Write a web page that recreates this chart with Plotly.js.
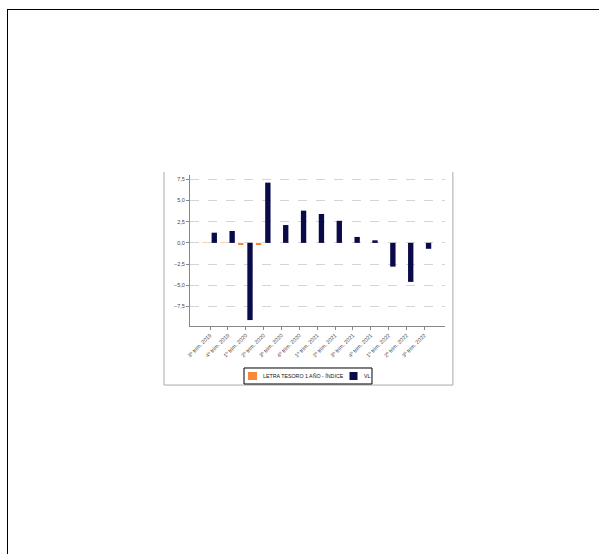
<!DOCTYPE html>
<html>
<head>
<meta charset="utf-8">
<script src="https://cdn.plot.ly/plotly-3.0.1.min.js"></script>
<style>
  html, body { margin: 0; padding: 0; background: #fff; overflow: hidden; }
  #frame { position: absolute; left: 7px; top: 9px; width: 800px; height: 800px; border: 1.5px solid #000; }
  #chart { position: absolute; left: 0; top: 0; width: 599px; height: 554px; }
</style>
</head>
<body>
<div id="frame"></div>
<div id="chart"></div>
<script>
const categories = ["3º trim. 2019", "4º trim. 2019", "1º trim. 2020", "2º trim. 2020", "3º trim. 2020", "4º trim. 2020", "1º trim. 2021", "2º trim. 2021", "3º trim. 2021", "4º trim. 2021", "1º trim. 2022", "2º trim. 2022", "3º trim. 2022"];
const letraValues = [0.05, 0.05, -0.25, -0.25, null, null, null, null, null, null, null, null, null];
const vlValues = [1.2, 1.4, -9.1, 7.1, 2.1, 3.8, 3.4, 2.6, 0.7, 0.3, -2.8, -4.6, -0.7];
const yTicks = [-7.5, -5, -2.5, 0, 2.5, 5, 7.5];
const seriesNames = ["LETRA TESORO 1 AÑO - ÍNDICE", "VL"];
const seriesColors = ["#f7883a", "#0a0a4a"];

const traces = [
  { type: "bar", name: seriesNames[0], x: categories, y: letraValues,
    marker: { color: seriesColors[0] }, width: 0.3, offset: -0.43 },
  { type: "bar", name: seriesNames[1], x: categories, y: vlValues,
    marker: { color: seriesColors[1] }, width: 0.3, offset: 0.09 }
];

// legend drawn as shapes + annotations in paper coordinates
const legendBox = { type: "rect", xref: "paper", yref: "paper", x0: 0.2118, x1: 0.7137, y0: -0.2781, y1: -0.3841,
  line: { color: "#000", width: 1 }, fillcolor: "#fff", layer: "above" };
const legendSwatches = [
  { type: "rect", xref: "paper", yref: "paper", x0: 0.2275, x1: 0.2627, y0: -0.3046, y1: -0.3576,
    line: { width: 0 }, fillcolor: seriesColors[0], layer: "above" },
  { type: "rect", xref: "paper", yref: "paper", x0: 0.6255, x1: 0.6569, y0: -0.3046, y1: -0.3576,
    line: { width: 0 }, fillcolor: seriesColors[1], layer: "above" }
];
const legendLabels = [
  { xref: "paper", yref: "paper", x: 0.2784, y: -0.3311, xanchor: "left", yanchor: "middle",
    text: seriesNames[0], showarrow: false, font: { size: 5.3, color: "#111" } },
  { xref: "paper", yref: "paper", x: 0.6745, y: -0.3311, xanchor: "left", yanchor: "middle",
    text: seriesNames[1], showarrow: false, font: { size: 5.3, color: "#111" } }
];

const layout = {
  width: 599, height: 554,
  margin: { l: 190, r: 154, t: 175, b: 228 },
  paper_bgcolor: "rgba(0,0,0,0)", plot_bgcolor: "#fff",
  separators: ",.",
  showlegend: false,
  font: { family: "Liberation Sans, Arial, sans-serif", color: "#333" },
  xaxis: {
    type: "category", range: [-1.12, 13.16],
    tickangle: -45, tickfont: { size: 5.5, color: "#444" },
    ticks: "outside", ticklen: 3, tickcolor: "#888",
    showline: true, linecolor: "#888", linewidth: 1,
    showgrid: false, zeroline: false, fixedrange: true
  },
  yaxis: {
    range: [-9.8, 8.0], tickvals: yTicks, tickformat: ".1f",
    tickfont: { size: 5.5, color: "#444" },
    ticks: "outside", ticklen: 3, tickcolor: "#888",
    showline: true, linecolor: "#888", linewidth: 1,
    showgrid: true, gridcolor: "#d4d4d4", griddash: "dash", gridwidth: 1,
    zeroline: false, fixedrange: true
  },
  shapes: [
    { type: "line", xref: "paper", yref: "paper", x0: -0.102, x1: -0.102, y0: 1.02, y1: -0.391, line: { color: "#aaa", width: 1 } },
    { type: "line", xref: "paper", yref: "paper", x0: 1.031, x1: 1.031, y0: 1.02, y1: -0.391, line: { color: "#aaa", width: 1 } },
    { type: "line", xref: "paper", yref: "paper", x0: -0.102, x1: 1.031, y0: -0.391, y1: -0.391, line: { color: "#aaa", width: 1 } },
    legendBox
  ].concat(legendSwatches),
  annotations: legendLabels
};

Plotly.newPlot("chart", traces, layout, { displayModeBar: false, staticPlot: true });
</script>
</body>
</html>
